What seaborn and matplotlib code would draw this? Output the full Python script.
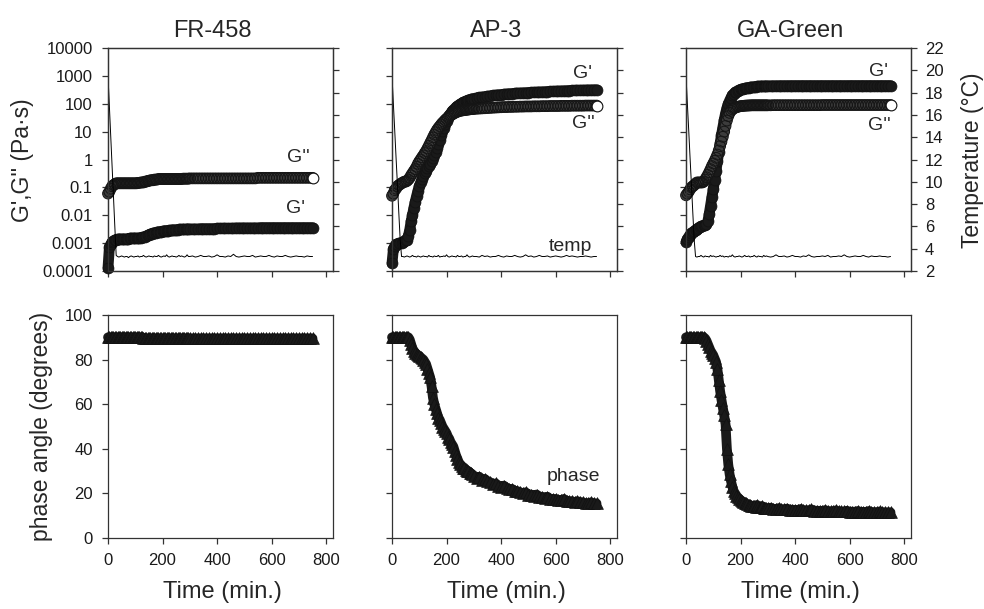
import matplotlib
matplotlib.use("Agg")
import matplotlib.pyplot as plt
import seaborn as sns
from matplotlib.ticker import FixedLocator, FixedFormatter, NullLocator

sns.set_theme(style="ticks")
plt.rcParams["font.family"] = ["Liberation Sans", "DejaVu Sans"]

# --- datos ---
samples = ["FR-458", "AP-3", "GA-Green"]

time_min = [0, 5, 10, 15, 20, 25, 30, 35, 40, 45,
            50, 55, 60, 65, 70, 75, 80, 85, 90, 95,
            100, 105, 110, 115, 120, 125, 130, 135, 140, 145,
            150, 155, 160, 165, 170, 175, 180, 185, 190, 195,
            200, 205, 210, 215, 220, 225, 230, 235, 240, 245,
            250, 255, 260, 265, 270, 275, 280, 285, 290, 295,
            300, 310, 320, 330, 340, 350, 360, 370, 380, 390,
            400, 410, 420, 430, 440, 450, 460, 470, 480, 490,
            500, 510, 520, 530, 540, 550, 560, 570, 580, 590,
            600, 610, 620, 630, 640, 650, 660, 670, 680, 690,
            700, 710, 720, 730, 740, 750]

# FR-458
fr_gp = [0.00013, 0.0007, 0.0009, 0.0011, 0.0012, 0.0013, 0.0013, 0.0014, 0.0014, 0.0014,
         0.0014, 0.0014, 0.0014, 0.0014, 0.0014, 0.0014, 0.0015, 0.0015, 0.0015, 0.0015,
         0.0015, 0.0015, 0.0015, 0.0015, 0.0015, 0.0016, 0.0016, 0.0017, 0.0018, 0.0019,
         0.0020, 0.0021, 0.0022, 0.0023, 0.0023, 0.0024, 0.0025, 0.0025, 0.0026, 0.0026,
         0.0027, 0.0027, 0.0028, 0.0028, 0.0028, 0.0029, 0.0029, 0.0029, 0.0030, 0.0030,
         0.0030, 0.0030, 0.0031, 0.0031, 0.0031, 0.0031, 0.0031, 0.0031, 0.0032, 0.0032,
         0.0032, 0.0032, 0.0032, 0.0032, 0.0033, 0.0033, 0.0033, 0.0033, 0.0033, 0.0033,
         0.0034, 0.0034, 0.0034, 0.0034, 0.0034, 0.0034, 0.0034, 0.0035, 0.0035, 0.0035,
         0.0035, 0.0035, 0.0035, 0.0035, 0.0035, 0.0035, 0.0036, 0.0036, 0.0036, 0.0036,
         0.0036, 0.0036, 0.0036, 0.0036, 0.0036, 0.0036, 0.0036, 0.0036, 0.0036, 0.0036,
         0.0036, 0.0036, 0.0036, 0.0036, 0.0036, 0.0036]
fr_gpp = [0.06, 0.07, 0.09, 0.11, 0.12, 0.13, 0.14, 0.14, 0.14, 0.14,
          0.14, 0.14, 0.14, 0.14, 0.14, 0.14, 0.14, 0.14, 0.14, 0.14,
          0.14, 0.14, 0.145, 0.145, 0.15, 0.15, 0.15, 0.16, 0.16, 0.17,
          0.17, 0.18, 0.18, 0.18, 0.19, 0.19, 0.19, 0.20, 0.20, 0.20,
          0.20, 0.20, 0.20, 0.20, 0.20, 0.20, 0.20, 0.20, 0.20, 0.20,
          0.20, 0.20, 0.20, 0.20, 0.20, 0.205, 0.205, 0.205, 0.205, 0.205,
          0.21, 0.21, 0.21, 0.21, 0.21, 0.21, 0.21, 0.21, 0.21, 0.21,
          0.21, 0.21, 0.21, 0.21, 0.21, 0.21, 0.21, 0.21, 0.21, 0.21,
          0.21, 0.21, 0.21, 0.21, 0.21, 0.22, 0.22, 0.22, 0.22, 0.22,
          0.22, 0.22, 0.22, 0.22, 0.22, 0.22, 0.22, 0.22, 0.22, 0.22,
          0.22, 0.22, 0.22, 0.22, 0.22, 0.22]
fr_temp = [19.5, 16.8, 14.1, 11.4, 8.7, 6.0, 3.4, 3.3, 3.25, 3.3,
           3.35, 3.3, 3.25, 3.3, 3.3, 3.2, 3.3, 3.35, 3.3, 3.25,
           3.3, 3.3, 3.35, 3.25, 3.3, 3.3, 3.4, 3.3, 3.25, 3.3,
           3.35, 3.3, 3.3, 3.25, 3.35, 3.3, 3.3, 3.4, 3.3, 3.25,
           3.3, 3.35, 3.3, 3.45, 3.3, 3.25, 3.3, 3.35, 3.3, 3.3,
           3.25, 3.3, 3.4, 3.3, 3.35, 3.3, 3.25, 3.3, 3.45, 3.3,
           3.3, 3.35, 3.25, 3.3, 3.4, 3.3, 3.3, 3.35, 3.25, 3.3,
           3.45, 3.3, 3.3, 3.25, 3.35, 3.3, 3.5, 3.3, 3.25, 3.3,
           3.35, 3.3, 3.3, 3.4, 3.25, 3.3, 3.35, 3.3, 3.3, 3.4,
           3.3, 3.25, 3.35, 3.3, 3.3, 3.4, 3.3, 3.25, 3.3, 3.35,
           3.3, 3.3, 3.25, 3.35, 3.3, 3.3]
fr_phase = [90, 90, 90, 90, 90, 90, 90, 90, 90, 90,
            90, 90, 90, 90, 90, 90, 90, 90, 90, 90,
            90, 90, 90, 90, 90, 90, 89.8, 89.6, 89.5, 89.5,
            89.5, 89.5, 89.5, 89.5, 89.5, 89.5, 89.5, 89.5, 89.5, 89.5,
            89.5, 89.5, 89.5, 89.5, 89.5, 89.5, 89.5, 89.5, 89.5, 89.5,
            89.5, 89.5, 89.5, 89.5, 89.5, 89.5, 89.5, 89.5, 89.5, 89.5,
            89.5, 89.5, 89.5, 89.5, 89.5, 89.5, 89.5, 89.5, 89.5, 89.5,
            89.5, 89.5, 89.5, 89.5, 89.5, 89.5, 89.5, 89.5, 89.5, 89.5,
            89.5, 89.5, 89.5, 89.5, 89.5, 89.5, 89.5, 89.5, 89.5, 89.5,
            89.5, 89.5, 89.5, 89.5, 89.5, 89.5, 89.5, 89.5, 89.5, 89.5,
            89.5, 89.5, 89.5, 89.5, 89.5, 89.5]

# AP-3
ap_gp = [0.00019, 0.0006, 0.0008, 0.0009, 0.00095, 0.001, 0.001, 0.001, 0.0011, 0.0012,
         0.0013, 0.0013, 0.0018, 0.003, 0.006, 0.01, 0.018, 0.03, 0.048, 0.075,
         0.11, 0.15, 0.2, 0.26, 0.33, 0.4, 0.48, 0.58, 0.7, 0.88,
         1.1, 1.4, 1.9, 2.6, 3.6, 5.2, 7.5, 10.5, 14, 19,
         25, 31, 38, 45, 53, 60, 67, 75, 82, 90,
         97, 104, 111, 117, 124, 130, 136, 141, 146, 150,
         154, 162, 168, 174, 180, 186, 192, 198, 204, 209,
         214, 219, 224, 228, 232, 236, 240, 243, 246, 249,
         252, 255, 258, 261, 264, 267, 270, 273, 276, 279,
         282, 285, 288, 291, 294, 297, 300, 302, 304, 306,
         308, 310, 312, 314, 316, 318]
ap_gpp = [0.05, 0.06, 0.08, 0.09, 0.11, 0.12, 0.13, 0.14, 0.15, 0.16,
          0.16, 0.17, 0.19, 0.22, 0.27, 0.32, 0.38, 0.45, 0.55, 0.7,
          0.85, 1.0, 1.2, 1.4, 1.7, 2.0, 2.5, 3.1, 3.9, 4.9,
          6.2, 7.8, 9.5, 11.5, 13.5, 15.5, 18, 20.5, 23, 26,
          29, 32, 35, 38, 41, 44, 47, 49, 52, 54,
          56, 57, 58, 59, 60, 61, 62, 63, 64, 64,
          65, 66, 67, 68, 69, 70, 71, 72, 73, 74,
          75, 76, 76, 77, 77, 78, 78, 79, 79, 80,
          80, 80, 81, 81, 81, 82, 82, 82, 83, 83,
          83, 83, 84, 84, 84, 84, 85, 85, 85, 85,
          85, 86, 86, 86, 86, 86]
ap_temp = [19.5, 17.0, 14.6, 12.1, 9.7, 7.2, 4.8, 3.3, 3.3, 3.25,
           3.3, 3.35, 3.3, 3.25, 3.3, 3.4, 3.3, 3.3, 3.25, 3.35,
           3.3, 3.25, 3.3, 3.35, 3.3, 3.3, 3.25, 3.4, 3.3, 3.3,
           3.25, 3.35, 3.3, 3.3, 3.4, 3.25, 3.3, 3.3, 3.35, 3.3,
           3.45, 3.3, 3.25, 3.3, 3.35, 3.3, 3.3, 3.25, 3.4, 3.3,
           3.3, 3.35, 3.25, 3.3, 3.3, 3.45, 3.3, 3.25, 3.3, 3.35,
           3.3, 3.3, 3.25, 3.4, 3.3, 3.35, 3.25, 3.3, 3.3, 3.4,
           3.3, 3.25, 3.35, 3.3, 3.3, 3.4, 3.3, 3.25, 3.3, 3.45,
           3.3, 3.35, 3.25, 3.3, 3.4, 3.3, 3.3, 3.35, 3.25, 3.3,
           3.35, 3.3, 3.25, 3.3, 3.4, 3.3, 3.35, 3.3, 3.25, 3.3,
           3.3, 3.35, 3.3, 3.25, 3.3, 3.3]
ap_phase = [90, 90, 90, 90, 90, 90, 90, 90, 90, 90,
            90, 90, 90, 89, 87, 85, 84, 83, 82.5, 82,
            81.5, 81, 80.5, 80, 79, 78, 76, 74, 72, 68,
            63, 60, 58, 56, 54, 53, 51.5, 50, 49, 48,
            47, 45.5, 44.5, 43, 42, 41, 39, 37, 35.5, 34,
            33, 32.5, 31.5, 31.5, 30.5, 30, 30, 29, 29, 28.5,
            28, 27, 27.5, 26, 26.5, 25.5, 25, 24, 24.5, 23.5,
            23, 23.5, 22.5, 22, 22, 21, 21, 20.5, 20, 20.5,
            19.5, 19.5, 19, 19.5, 18.5, 18.5, 18, 18.5, 17.5, 17.5,
            17.5, 17, 17, 17.5, 16.5, 16.5, 16.5, 16, 16.5, 16,
            16, 15.5, 15.5, 16, 15.5, 15.5]

# GA-Green
ga_gp = [0.0011, 0.0014, 0.0017, 0.002, 0.0023, 0.0025, 0.0027, 0.003, 0.0032, 0.0035,
         0.0038, 0.004, 0.0042, 0.0043, 0.0045, 0.0047, 0.006, 0.011, 0.022, 0.045,
         0.09, 0.18, 0.4, 0.85, 1.8, 3.8, 7.5, 14, 26, 45,
         70, 100, 130, 165, 200, 230, 255, 275, 295, 312,
         325, 337, 348, 358, 367, 375, 382, 390, 396, 402,
         407, 412, 416, 420, 423, 426, 429, 431, 433, 435,
         437, 439, 441, 443, 444, 445, 446, 446, 447, 447,
         448, 448, 448, 448, 448, 448, 448, 448, 448, 448,
         448, 448, 448, 448, 448, 448, 448, 448, 448, 448,
         449, 449, 449, 449, 449, 449, 449, 449, 449, 449,
         449, 449, 449, 449, 449, 449]
ga_gpp = [0.052, 0.06, 0.07, 0.085, 0.1, 0.11, 0.12, 0.135, 0.15, 0.15,
          0.15, 0.15, 0.15, 0.16, 0.19, 0.23, 0.28, 0.35, 0.45, 0.58,
          0.72, 0.9, 1.15, 1.5, 2.1, 3.0, 4.4, 6.5, 10, 16,
          25, 36, 47, 56, 63, 68, 72, 75, 78, 80,
          82, 83, 84, 85, 86, 86, 87, 87, 88, 88,
          88, 88, 88, 88, 88, 88, 88, 88, 88, 88,
          88, 88, 89, 89, 89, 89, 89, 89, 89, 89,
          89, 89, 89, 89, 89, 89, 89, 89, 89, 89,
          90, 90, 90, 90, 90, 90, 90, 90, 90, 90,
          90, 90, 90, 90, 90, 90, 90, 90, 90, 90,
          90, 90, 90, 90, 90, 90]
ga_temp = [19.5, 17.0, 14.6, 12.1, 9.7, 7.2, 4.8, 3.3, 3.25, 3.3,
           3.3, 3.4, 3.3, 3.25, 3.35, 3.3, 3.3, 3.25, 3.4, 3.3,
           3.35, 3.3, 3.25, 3.3, 3.3, 3.4, 3.3, 3.35, 3.25, 3.3,
           3.3, 3.25, 3.35, 3.3, 3.45, 3.3, 3.25, 3.3, 3.3, 3.35,
           3.3, 3.25, 3.3, 3.4, 3.3, 3.3, 3.35, 3.25, 3.3, 3.3,
           3.4, 3.3, 3.25, 3.35, 3.3, 3.3, 3.25, 3.4, 3.3, 3.35,
           3.3, 3.25, 3.3, 3.45, 3.3, 3.3, 3.35, 3.25, 3.3, 3.4,
           3.3, 3.3, 3.25, 3.35, 3.3, 3.45, 3.3, 3.25, 3.3, 3.3,
           3.35, 3.3, 3.4, 3.25, 3.3, 3.3, 3.35, 3.3, 3.45, 3.3,
           3.25, 3.3, 3.35, 3.3, 3.3, 3.4, 3.3, 3.25, 3.35, 3.3,
           3.3, 3.35, 3.3, 3.3, 3.25, 3.3]
ga_phase = [90, 90, 90, 90, 90, 90, 90, 90, 90, 90,
            90, 90, 90, 90, 89.5, 88.5, 87, 85.5, 84, 83,
            82, 80.5, 79, 76, 71, 66, 62, 58.5, 55, 51,
            40, 33, 28.5, 25.5, 23, 21, 20, 19, 18.2, 17.6,
            17, 16.6, 16.2, 15.8, 15.5, 15.2, 15, 14.7, 14.5, 14.3,
            14.2, 14, 14.8, 14, 13.9, 13.8, 14.2, 13.6, 13.5, 13.4,
            13.3, 13.6, 13.1, 13, 13.4, 12.9, 12.8, 13.2, 12.7, 12.7,
            12.6, 12.6, 13.0, 12.5, 12.4, 12.4, 12.8, 12.3, 12.2, 12.2,
            12.1, 12.5, 12.1, 12, 12, 12.4, 11.9, 11.9, 11.9, 12.2,
            11.8, 11.8, 11.8, 12.1, 11.7, 11.7, 11.7, 12.1, 11.6, 11.6,
            11.6, 11.9, 11.6, 11.5, 11.5, 11.5]

g_ticks = [1e-4, 1e-3, 1e-2, 1e-1, 1, 10, 100, 1000, 10000]
g_tick_labels = ["0.0001", "0.001", "0.01", "0.1", "1", "10", "100", "1000", "10000"]
temp_ticks = [2, 4, 6, 8, 10, 12, 14, 16, 18, 20, 22]
phase_ticks = [0, 20, 40, 60, 80, 100]
time_ticks = [0, 200, 400, 600, 800]

gp_all = [fr_gp, ap_gp, ga_gp]
gpp_all = [fr_gpp, ap_gpp, ga_gpp]
temp_all = [fr_temp, ap_temp, ga_temp]
phase_all = [fr_phase, ap_phase, ga_phase]

# --- figura ---
W, H = 984, 609
fig = plt.figure(figsize=(W / 100, H / 100), dpi=100)


def ejes_px(left, top, width, height):
    return fig.add_axes([left / W, 1 - (top + height) / H, width / W, height / H])


def caja(ax):
    for sp in ax.spines.values():
        sp.set_visible(True)
        sp.set_color("#333333")
        sp.set_linewidth(0.9)
    ax.tick_params(direction="out", length=4, width=0.9, color="#333333",
                   labelsize=12, pad=7, labelcolor="#1a1a1a")


lefts = [108, 392, 686]
top_axes = [ejes_px(l, 48, 225, 223) for l in lefts]
bot_axes = [ejes_px(l, 315, 225, 223) for l in lefts]

banda = dict(solid_capstyle="round", solid_joinstyle="round", errorbar=None,
             legend=False, clip_on=False)

for i, ax in enumerate(top_axes):
    # G' : banda negra continua + circulos llenos
    sns.lineplot(x=time_min, y=gp_all[i], ax=ax, color="#1a1a1a", linewidth=7.8, zorder=2, **banda)
    sns.scatterplot(x=time_min, y=gp_all[i], ax=ax, marker="o", s=62, color="#1a1a1a",
                    edgecolor="#111111", linewidth=0.5, clip_on=False, legend=False, zorder=3)
    # G'' : circulos abiertos muy densos -> banda gris oscura
    sns.lineplot(x=time_min, y=gpp_all[i], ax=ax, color="#3c3c3c", linewidth=7.6, zorder=4, **banda)
    sns.scatterplot(x=time_min, y=gpp_all[i], ax=ax, marker="o", s=60, color="none",
                    edgecolor="#151515", linewidth=0.7, clip_on=False, legend=False, zorder=5)
    sns.scatterplot(x=time_min[-1:], y=gpp_all[i][-1:], ax=ax, marker="o", s=60, color="white",
                    edgecolor="#111111", linewidth=0.8, clip_on=False, legend=False, zorder=6)
    ax.set_yscale("log")
    ax.set_ylim(1e-4, 1e4)
    ax.set_xlim(0, 825)
    ax.yaxis.set_major_locator(FixedLocator(g_ticks))
    ax.yaxis.set_major_formatter(FixedFormatter(g_tick_labels))
    ax.yaxis.set_minor_locator(NullLocator())
    ax.set_xticks(time_ticks)
    ax.set_xlabel("")
    ax.set_ylabel("")
    caja(ax)
    ax.tick_params(labelbottom=False, labelleft=(i == 0))

    tax = ax.twinx()
    sns.lineplot(x=time_min, y=temp_all[i], ax=tax, color="black", linewidth=0.7,
                 errorbar=None, legend=False)
    tax.set_ylim(2, 22)
    tax.set_yticks(temp_ticks)
    tax.set_ylabel("")
    caja(tax)
    tax.tick_params(labelright=(i == 2), pad=6)

    fig.text((lefts[i] + 104) / W, 1 - 37 / H, samples[i], ha="center", va="baseline", fontsize=17)

for i, ax in enumerate(bot_axes):
    sns.lineplot(x=time_min, y=phase_all[i], ax=ax, color="#1a1a1a", linewidth=7, zorder=2, **banda)
    sns.scatterplot(x=time_min, y=phase_all[i], ax=ax, marker="^", s=72, color="#1a1a1a",
                    edgecolor="#111111", linewidth=0.5, clip_on=False, legend=False, zorder=3)
    ax.set_ylim(0, 100)
    ax.set_xlim(0, 825)
    ax.set_yticks(phase_ticks)
    ax.set_xticks(time_ticks)
    ax.set_xlabel("")
    ax.set_ylabel("")
    caja(ax)
    ax.tick_params(labelleft=(i == 0))
    fig.text((lefts[i] + 114) / W, 1 - 598 / H, "Time (min.)", ha="center", va="baseline", fontsize=17)

# etiquetas de las curvas
top_axes[0].text(697, 1.15, "G''", ha="center", va="center", fontsize=14)
top_axes[0].text(686, 0.017, "G'", ha="center", va="center", fontsize=14)
top_axes[1].text(697, 1260, "G'", ha="center", va="center", fontsize=14)
top_axes[1].text(700, 19, "G''", ha="center", va="center", fontsize=14)
top_axes[1].text(656, 0.00074, "temp", ha="center", va="center", fontsize=14, zorder=6)
top_axes[2].text(704, 1380, "G'", ha="center", va="center", fontsize=14)
top_axes[2].text(708, 16, "G''", ha="center", va="center", fontsize=14)
bot_axes[1].text(664, 27.4, "phase", ha="center", va="center", fontsize=14)

fig.text(23 / W, 1 - 160 / H, "G',G'' (Pa·s)", rotation=90, ha="center", va="center", fontsize=16.5)
fig.text(42 / W, 1 - 426 / H, "phase angle (degrees)", rotation=90, ha="center", va="center", fontsize=16.5)
fig.text(972 / W, 1 - 160 / H, "Temperature (°C)", rotation=90, ha="center", va="center", fontsize=16.5)

fig.savefig("out.png", dpi=100)
